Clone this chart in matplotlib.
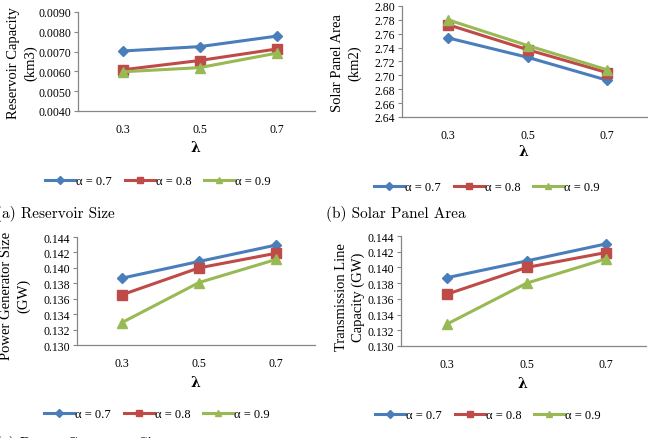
import matplotlib.pyplot as plt
from matplotlib.ticker import FormatStrFormatter

lambdas = ['0.3', '0.5', '0.7']
alpha_labels = ['α = 0.7', 'α = 0.8', 'α = 0.9']

reservoir = [[0.00703, 0.00725, 0.00778],
             [0.00608, 0.00655, 0.00713],
             [0.00598, 0.00619, 0.00692]]
solar = [[2.754, 2.726, 2.693],
         [2.773, 2.737, 2.704],
         [2.780, 2.743, 2.708]]
generator = [[0.13866, 0.14083, 0.14296],
             [0.1365, 0.1400, 0.1419],
             [0.1329, 0.1381, 0.1411]]
transmission = [[0.13870, 0.14083, 0.14300],
                [0.1366, 0.1400, 0.1419],
                [0.1328, 0.1380, 0.1411]]

colors = ['#4A7EBB', '#BE4B48', '#98B954']
markers = ['D', 's', '^']
msizes = [5, 6.5, 6.5]

W, H = 648, 439
serif = 'Liberation Serif'
plt.rcParams['font.family'] = serif

fig = plt.figure(figsize=(W / 100, H / 100), dpi=100)


def fx(px):
    return px / W


def fy(py):
    return 1 - py / H


def panel(box, data, ylim, step, fmt, ylabel, ylab_pos, lam_y, leg_pos, cap, cap_pos):
    l, r, t, b = box
    ax = fig.add_axes([fx(l), fy(b), fx(r - l), (b - t) / H])
    x = range(len(lambdas))
    for vals, c, m, ms, lab in zip(data, colors, markers, msizes, alpha_labels):
        ax.plot(x, vals, color=c, marker=m, ms=ms, lw=2.2, label=lab)
    ax.set_xlim(-0.58, 2.5)
    ax.set_ylim(*ylim)
    n = int(round((ylim[1] - ylim[0]) / step))
    ax.set_yticks([ylim[0] + i * step for i in range(n + 1)])
    ax.yaxis.set_major_formatter(FormatStrFormatter(fmt))
    ax.set_xticks(list(x))
    ax.set_xticklabels(lambdas)
    ax.tick_params(axis='x', length=0, pad=9, labelsize=8.5)
    ax.tick_params(axis='y', length=3, width=0.8, color='#868686', pad=2, labelsize=8.5)
    for s in ['top', 'right']:
        ax.spines[s].set_visible(False)
    for s in ['left', 'bottom']:
        ax.spines[s].set_color('#868686')
        ax.spines[s].set_linewidth(0.9)
    fig.text(fx((l + r) / 2 - 1), fy(lam_y), 'λ', fontsize=10, fontweight='bold',
             ha='center', va='center', family='DejaVu Serif')
    fig.text(fx(ylab_pos[0]), fy(ylab_pos[1]), ylabel, rotation=90, fontsize=10.5,
             ha='center', va='center', multialignment='center', linespacing=1.35)
    handles, labels = ax.get_legend_handles_labels()
    fig.legend(handles, labels, loc='center', bbox_to_anchor=(fx(leg_pos[0]), fy(leg_pos[1])),
               ncol=3, frameon=False, fontsize=9, handlelength=2.4, handletextpad=0.1,
               columnspacing=1.0, markerscale=0.75)
    if cap:
        fig.text(fx(cap_pos[0]), fy(cap_pos[1]), cap, fontsize=11, family='cmr10',
                 ha='left', va='center')
    return ax


panel((78, 315, 13, 112), reservoir, (0.0040, 0.0090), 0.0010, '%.4f',
      'Reservoir Capacity\n(km3)', (22, 63), 148, (158, 182),
      '(a) Reservoir Size', (-4, 214))
panel((402, 647, 7, 118), solar, (2.64, 2.80), 0.02, '%.2f',
      'Solar Panel Area\n(km2)', (346, 63), 152, (487, 188),
      '(b) Solar Panel Area', (326, 214))
panel((77, 315, 238, 346), generator, (0.130, 0.144), 0.002, '%.3f',
      'Power Generator Size\n(GW)', (15, 296), 383, (157, 415),
      '(c) Power Generator Size', (-4, 444))
panel((401, 646, 237, 347), transmission, (0.130, 0.144), 0.002, '%.3f',
      'Transmission Line\nCapacity (GW)', (350, 297), 384, (488, 416),
      '', (326, 446))

plt.savefig('out.png', dpi=100)
